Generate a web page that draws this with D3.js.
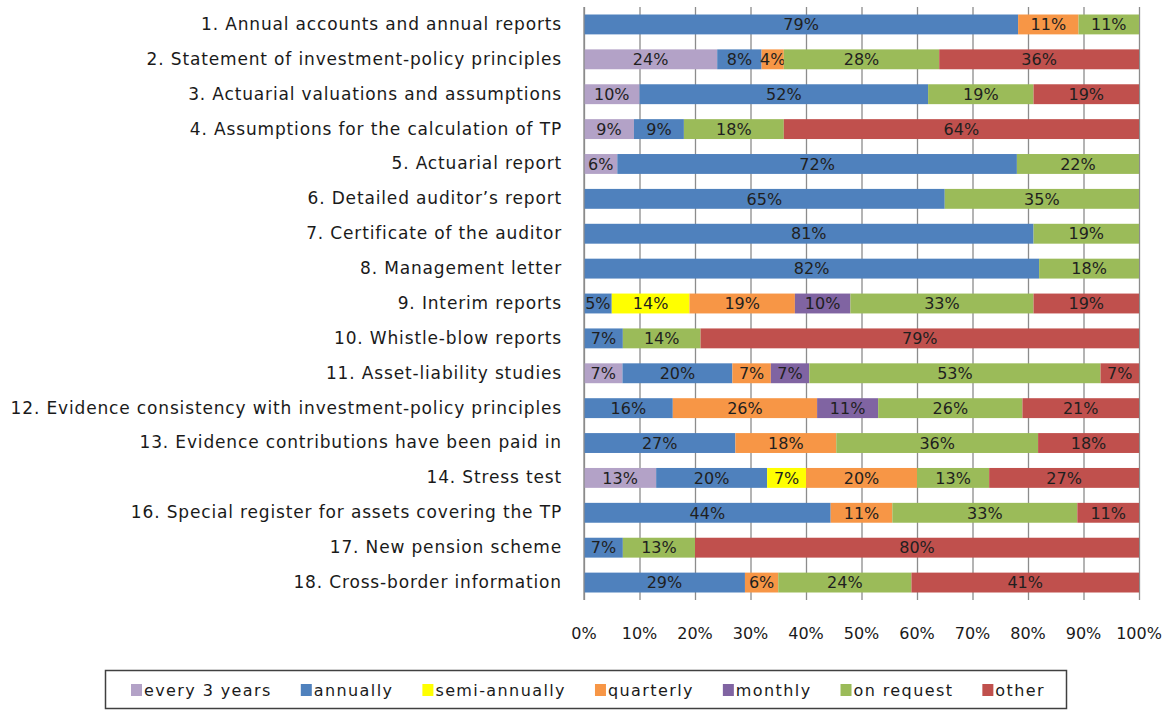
<!DOCTYPE html>
<html>
<head>
<meta charset="utf-8">
<script src="https://cdn.jsdelivr.net/npm/d3@7"></script>
<style>
  body { margin: 0; background: #fff; }
  svg { display: block; font-family: "DejaVu Sans", Verdana, sans-serif; }
</style>
</head>
<body>
<svg id="chart" width="1166" height="711"></svg>
<script>
var categories = [
  "1. Annual accounts and annual reports",
  "2. Statement of investment-policy principles",
  "3. Actuarial valuations and assumptions",
  "4. Assumptions for the calculation of TP",
  "5. Actuarial report",
  "6. Detailed auditor\u2019s report",
  "7. Certificate of the auditor",
  "8. Management letter",
  "9. Interim reports",
  "10. Whistle-blow reports",
  "11. Asset-liability studies",
  "12. Evidence consistency with investment-policy principles",
  "13. Evidence contributions have been paid in",
  "14. Stress test",
  "16. Special register for assets covering the TP",
  "17. New pension scheme",
  "18. Cross-border information"
];

var seriesNames = ["every 3 years", "annually", "semi-annually", "quarterly", "monthly", "on request", "other"];
var seriesColors = ["#b3a2c7", "#4f81bd", "#ffff00", "#f79646", "#8064a2", "#9bbb59", "#c0504d"];

// percentages per series, one value per category (0 = not present)
var every3Years  = [0, 24, 10, 9, 6, 0, 0, 0, 0, 0, 7, 0, 0, 13, 0, 0, 0];
var annually     = [79, 8, 52, 9, 72, 65, 81, 82, 5, 7, 20, 16, 27, 20, 44, 7, 29];
var semiAnnually = [0, 0, 0, 0, 0, 0, 0, 0, 14, 0, 0, 0, 0, 7, 0, 0, 0];
var quarterly    = [11, 4, 0, 0, 0, 0, 0, 0, 19, 0, 7, 26, 18, 20, 11, 0, 6];
var monthly      = [0, 0, 0, 0, 0, 0, 0, 0, 10, 0, 7, 11, 0, 0, 0, 0, 0];
var onRequest    = [11, 28, 19, 18, 22, 35, 19, 18, 33, 14, 53, 26, 36, 13, 33, 13, 24];
var other        = [0, 36, 19, 64, 0, 0, 0, 0, 19, 79, 7, 21, 18, 27, 11, 80, 41];

var xTicks = [0, 0.1, 0.2, 0.3, 0.4, 0.5, 0.6, 0.7, 0.8, 0.9, 1];

var seriesValues = [every3Years, annually, semiAnnually, quarterly, monthly, onRequest, other];

(function() {
  var svg = d3.select("#chart");
  var plotLeft = 584, plotRight = 1139, plotTop = 7, plotBottom = 600;

  var rows = categories.map(function(c, i) {
    var row = { cat: c };
    seriesNames.forEach(function(s, j) { row[s] = seriesValues[j][i]; });
    return row;
  });

  // 100% stacked: normalise each row
  var stack = d3.stack().keys(seriesNames).offset(d3.stackOffsetExpand);
  var stacked = stack(rows);

  var x = d3.scaleLinear().domain([0, 1]).range([plotLeft, plotRight]);
  var y = d3.scaleBand().domain(categories).range([plotTop, plotBottom])
    .paddingInner(0.43).paddingOuter(0.215);

  // gridlines + ticks
  svg.append("g")
    .attr("transform", "translate(0," + plotBottom + ")")
    .call(d3.axisBottom(x).tickValues(xTicks).tickSize(-(plotBottom - plotTop)).tickFormat(""))
    .call(function(g) {
      g.select(".domain").remove();
      g.selectAll(".tick line").attr("stroke", "#8c8c8c").attr("stroke-width", 1.3);
    });

  function segs(d) {
    return d.filter(function(p) { return p.data[d.key] > 0; })
      .map(function(p) { p.key = d.key; return p; });
  }

  // bars
  var layer = svg.append("g").selectAll("g")
    .data(stacked)
    .enter().append("g")
    .attr("fill", function(d, i) { return seriesColors[i]; });

  layer.selectAll("rect")
    .data(segs)
    .enter().append("rect")
    .attr("x", function(d) { return x(d[0]); })
    .attr("width", function(d) { return x(d[1]) - x(d[0]); })
    .attr("y", function(d) { return y(d.data.cat); })
    .attr("height", y.bandwidth());

  // value labels
  layer.selectAll("text")
    .data(segs)
    .enter().append("text")
    .attr("x", function(d) { return (x(d[0]) + x(d[1])) / 2; })
    .attr("y", function(d) { return y(d.data.cat) + y.bandwidth() / 2; })
    .attr("dy", "0.36em")
    .attr("text-anchor", "middle")
    .attr("fill", "#1f1f1f")
    .style("font-size", "16px")
    .text(function(d) { return d.data[d.key] + "%"; });

  // category axis
  svg.append("g")
    .attr("transform", "translate(" + plotLeft + ",0)")
    .call(d3.axisLeft(y).tickSize(0).tickPadding(22))
    .call(function(g) {
      g.select(".domain").attr("stroke", "#8c8c8c").attr("stroke-width", 1.3)
        .attr("d", "M0," + plotTop + "V" + plotBottom);
      g.selectAll("text").attr("fill", "#1a1a1a").style("font-size", "17px")
        .style("letter-spacing", "0.85px")
        .style("font-family", "DejaVu Sans, Verdana, sans-serif");
    });

  // x tick labels
  svg.append("g")
    .attr("transform", "translate(0,639)")
    .selectAll("text")
    .data(xTicks)
    .enter().append("text")
    .attr("x", function(d) { return x(d); })
    .attr("text-anchor", "middle")
    .attr("fill", "#1a1a1a")
    .style("font-size", "16px")
    .text(d3.format(".0%"));

  // legend
  var legend = svg.append("g");
  legend.append("rect")
    .attr("x", 105.5).attr("y", 670.5).attr("width", 961).attr("height", 38)
    .attr("fill", "#fff").attr("stroke", "#404040").attr("stroke-width", 1.5);

  var lx = 131;
  seriesNames.forEach(function(s, i) {
    var g = legend.append("g").attr("transform", "translate(" + lx + ",690)");
    g.append("rect").attr("x", 0).attr("y", -6).attr("width", 11).attr("height", 12)
      .attr("fill", seriesColors[i]);
    var t = g.append("text").attr("x", 13).attr("dy", "0.36em").attr("fill", "#1a1a1a")
      .style("font-size", "16px").style("letter-spacing", "1.4px").text(s);
    lx += 13 + t.node().getComputedTextLength() + 29;
  });
})();
</script>
</body>
</html>
